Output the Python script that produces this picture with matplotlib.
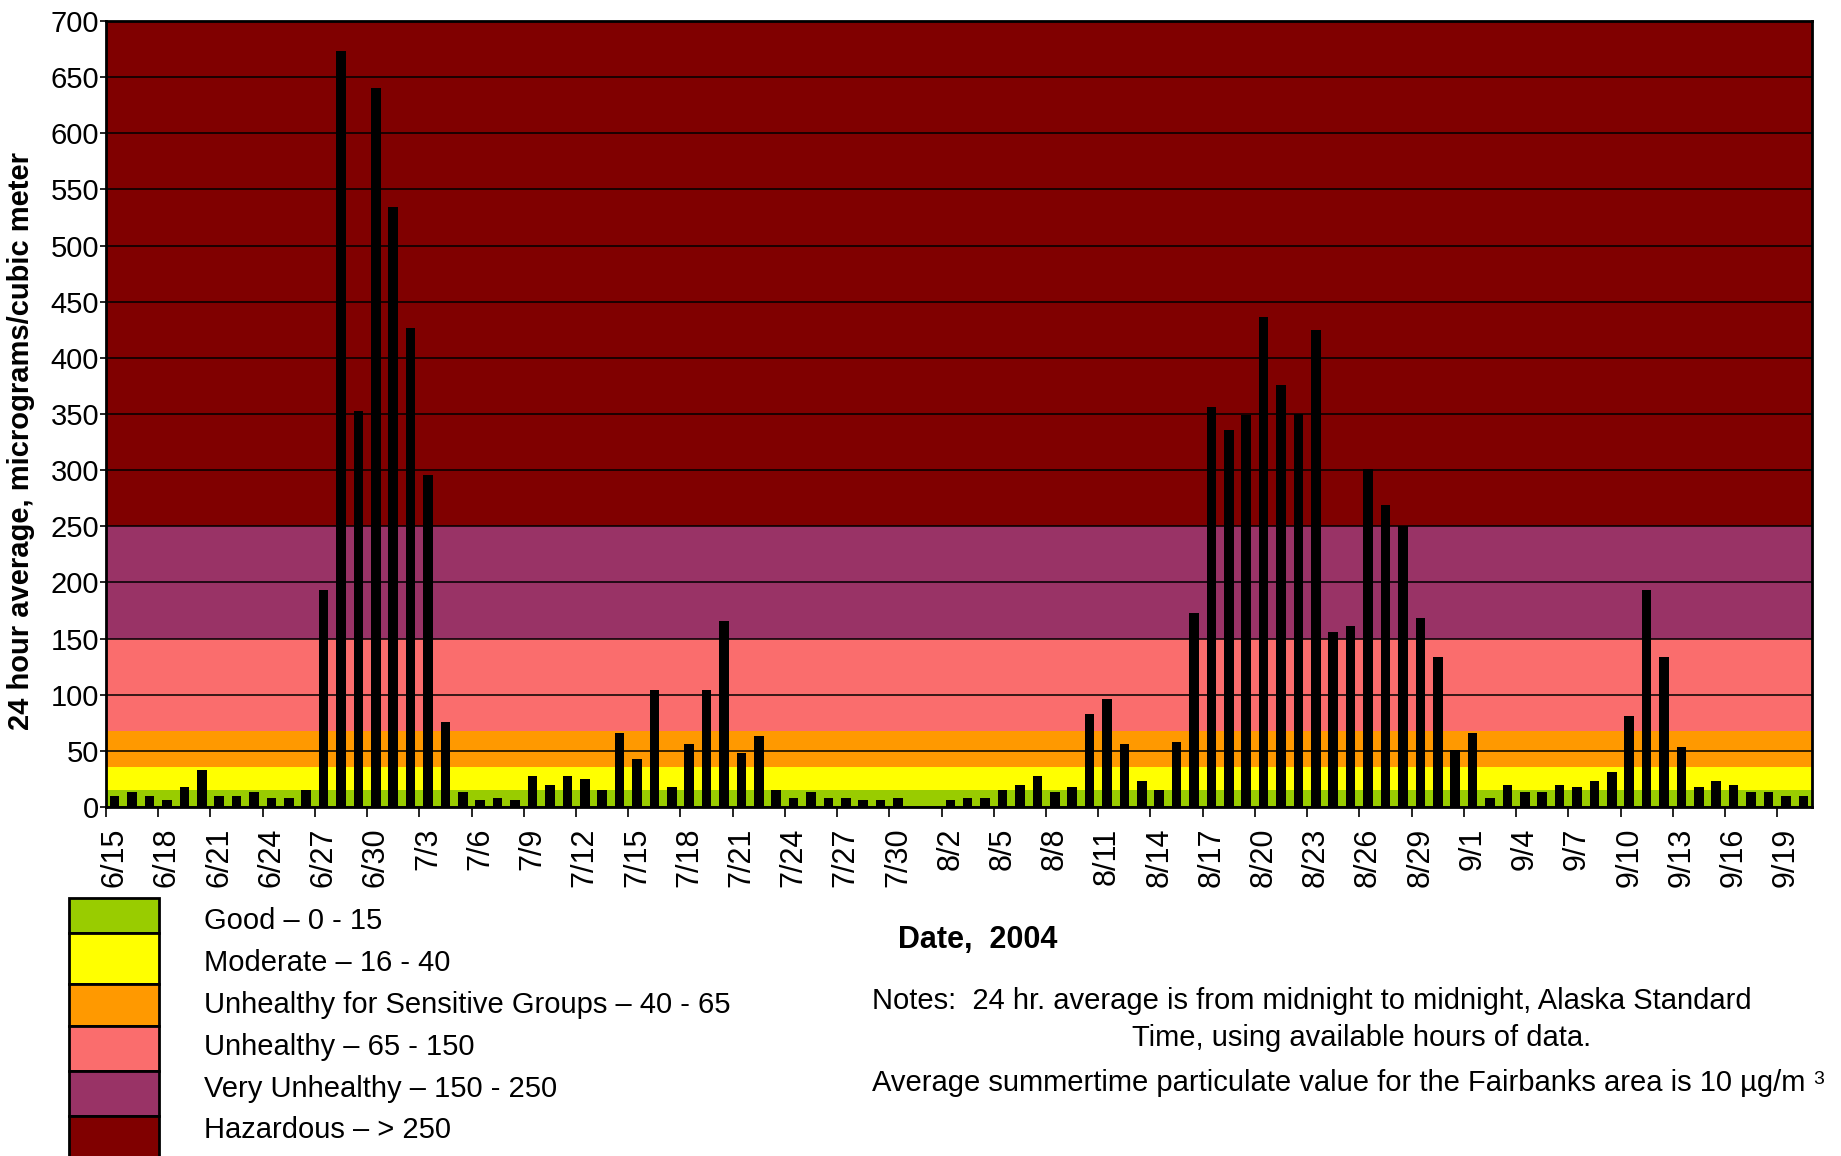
import matplotlib.pyplot as plt
import numpy as np
import pandas as pd
from matplotlib.patches import Rectangle

plt.rcParams['font.family'] = ['Liberation Sans', 'DejaVu Sans']

# ============ data ============
days = [f"{d.month}/{d.day}" for d in pd.date_range('2004-06-15', '2004-09-20')]

pm_values = [
    10, 13, 10, 6, 18, 33, 10, 10, 13, 8, 8, 15,          # 6/15 - 6/26
    193, 673, 353, 640, 534, 427, 296, 76,                # 6/27 - 7/4
    13, 6, 8, 6, 28, 20, 28, 25, 15, 66,                  # 7/5 - 7/14
    43, 104, 18, 56, 104, 166, 48, 63, 15, 8,             # 7/15 - 7/24
    13, 8, 8, 6, 6, 8, np.nan, np.nan, 6, 8,              # 7/25 - 8/3
    8, 15, 20, 28, 13, 18, 83, 96, 56, 23,                # 8/4 - 8/13
    15, 58, 173, 356, 336, 349, 436, 376, 350, 425,       # 8/14 - 8/23
    156, 161, 301, 269, 250, 168, 134, 51, 66, 8,         # 8/24 - 9/2
    20, 13, 13, 20, 18, 23, 31, 81, 193, 134,             # 9/3 - 9/12
    53, 18, 23, 20, 13, 13, 10, 10,                       # 9/13 - 9/20
]

band_edges = [0, 15, 35.5, 68, 150, 250, 700]
band_colors = ['#99CC00', '#FFFF00', '#FF9900', '#FA6D6D', '#993366', '#800000']
band_labels = [
    'Good – 0 - 15',
    'Moderate – 16 - 40',
    'Unhealthy for Sensitive Groups – 40 - 65',
    'Unhealthy – 65 - 150',
    'Very Unhealthy – 150 - 250',
    'Hazardous – > 250',
]

W, H = 1841, 1156


def fx(px):
    return px / W


def fy(py):
    return 1 - py / H


fig = plt.figure(figsize=(W / 100, H / 100), dpi=100)
ax = fig.add_axes([fx(106), fy(807), fx(1812 - 106), (807 - 21) / H])

# AQI bands
for lo, hi, c in zip(band_edges[:-1], band_edges[1:], band_colors):
    ax.axhspan(lo, hi, color=c, zorder=0.1, lw=0)

x = np.arange(len(days))
ax.bar(x, pm_values, width=0.55, color='black', zorder=3)

ax.set_xlim(-0.5, len(days) - 0.5)
ax.set_ylim(0, 700)
ax.set_yticks(range(0, 701, 50))
ax.yaxis.grid(True, color='black', lw=1.1)
ax.set_axisbelow(True)

ax.set_xticks(np.arange(-0.5, len(days), 3))
ax.set_xticklabels([])
ax.set_xticks(x[::3], minor=True)
ax.set_xticklabels(days[::3], minor=True, rotation=90, ha='center', va='top')
ax.tick_params(axis='x', which='major', length=7, width=1.2, color='black')
ax.tick_params(axis='x', which='minor', length=0, pad=15, labelsize=22)
ax.tick_params(axis='y', length=4, width=1.2, pad=1, labelsize=21)

for s in ax.spines.values():
    s.set_color('black')
    s.set_linewidth(2)

fig.text(fx(21), fy(441), '24 hour average, micrograms/cubic meter',
         rotation=90, ha='center', va='center', fontsize=21, fontweight='bold')

# legend boxes
legend_y = [898, 933, 984, 1026, 1071, 1116, 1175]
legend_text_y = [921, 963, 1005, 1047, 1089, 1130]
for i, (c, lab) in enumerate(zip(band_colors, band_labels)):
    top, bot = legend_y[i], legend_y[i + 1]
    fig.patches.append(Rectangle((fx(69), fy(bot)), fx(159 - 69), (bot - top) / H,
                                 transform=fig.transFigure, facecolor=c,
                                 edgecolor='black', lw=2))
    fig.text(fx(204), fy(legend_text_y[i]), lab, ha='left', va='center', fontsize=21)

fig.text(fx(898), fy(940), 'Date,  2004', ha='left', va='center',
         fontsize=22, fontweight='bold')
fig.text(fx(872), fy(1001),
         'Notes:  24 hr. average is from midnight to midnight, Alaska Standard',
         ha='left', va='center', fontsize=21)
fig.text(fx(1362), fy(1038), 'Time, using available hours of data.',
         ha='center', va='center', fontsize=21)
avg = fig.text(fx(872), fy(1083),
               'Average summertime particulate value for the Fairbanks area is 10 µg/m',
               ha='left', va='center', fontsize=21)

# superscript 3 right after the unit
fig.canvas.draw()
bb = avg.get_window_extent()
fig.text((bb.x1 + 8) / W, (bb.y1 - 2) / H, '3', ha='left', va='top', fontsize=14)

fig.savefig('out.png', dpi=100)
